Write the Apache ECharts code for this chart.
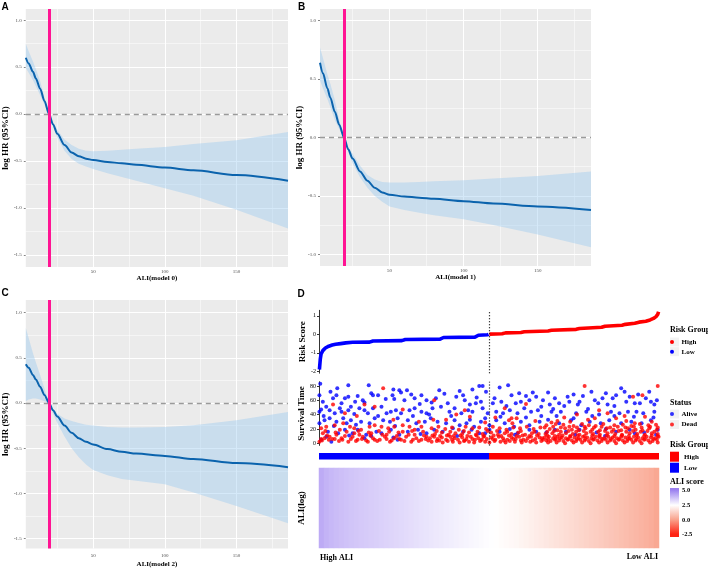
<!DOCTYPE html>
<html><head><meta charset="utf-8">
<script src="https://cdn.jsdelivr.net/npm/echarts@6/dist/echarts.min.js"></script>
<style>html,body{margin:0;padding:0;background:#fff}#c{width:708px;height:569px}</style>
</head><body><div id="c"></div>
<script>
// ---------- Panels A-C : restricted cubic spline (log HR vs ALI) ----------
const aliX = [3, 5, 8, 10, 13, 16, 19.2, 22, 25, 30, 35, 40, 45, 50, 60, 70, 80, 100, 120, 150, 186];
const fitA = [0.60, 0.54, 0.45, 0.38, 0.27, 0.14, 0, -0.11, -0.21, -0.33, -0.41, -0.45, -0.475, -0.49, -0.51, -0.525, -0.54, -0.57, -0.60, -0.65, -0.71];
const upA  = [0.75, 0.67, 0.56, 0.48, 0.35, 0.18, 0, -0.09, -0.17, -0.27, -0.33, -0.37, -0.39, -0.395, -0.39, -0.38, -0.37, -0.35, -0.32, -0.28, -0.19];
const loA  = [0.49, 0.44, 0.36, 0.30, 0.20, 0.10, 0, -0.13, -0.25, -0.39, -0.48, -0.53, -0.56, -0.585, -0.63, -0.67, -0.71, -0.79, -0.87, -1.02, -1.22];
const fitB = [0.64, 0.55, 0.42, 0.34, 0.22, 0.11, 0, -0.10, -0.18, -0.29, -0.37, -0.43, -0.47, -0.49, -0.505, -0.515, -0.525, -0.545, -0.565, -0.59, -0.62];
const upB  = [0.77, 0.68, 0.54, 0.46, 0.32, 0.15, 0, -0.08, -0.14, -0.24, -0.32, -0.36, -0.38, -0.385, -0.385, -0.38, -0.375, -0.365, -0.35, -0.33, -0.29];
const loB  = [0.49, 0.42, 0.33, 0.26, 0.15, 0.07, 0, -0.12, -0.22, -0.34, -0.43, -0.50, -0.55, -0.59, -0.62, -0.645, -0.665, -0.70, -0.75, -0.83, -0.94];
const fitC = [0.43, 0.39, 0.31, 0.26, 0.18, 0.09, 0, -0.08, -0.15, -0.25, -0.33, -0.39, -0.43, -0.46, -0.51, -0.54, -0.56, -0.585, -0.62, -0.665, -0.71];
const upC  = [0.83, 0.72, 0.55, 0.45, 0.31, 0.16, 0, -0.07, -0.12, -0.17, -0.20, -0.22, -0.24, -0.25, -0.265, -0.27, -0.27, -0.265, -0.245, -0.19, -0.10];
const loC  = [0.02, 0.04, 0.05, 0.05, 0.04, 0.02, 0, -0.12, -0.22, -0.37, -0.50, -0.60, -0.68, -0.74, -0.80, -0.84, -0.86, -0.90, -0.99, -1.14, -1.33];
const cutoff = 19.2;
const xMajor = [50, 100, 150];
const xMinor = [25, 75, 125, 175];
const yMajorAC = [-1.5, -1, -0.5, 0, 0.5, 1];
const yMinorAC = [-1.25, -0.75, -0.25, 0.25, 0.75];
const yMajorB = [-1, -0.5, 0, 0.5, 1];
const yMinorB = [-0.75, -0.25, 0.25, 0.75];

// ---------- Panel D ----------
const riskLow = [[1,-1.9],[2,-1.35],[3,-1.05],[5,-0.88],[8,-0.74],[12,-0.64],[16,-0.58],[20,-0.54],[26,-0.5],[32,-0.46],[40,-0.43],[60,-0.42],[64,-0.36],[98,-0.34],[102,-0.28],[143,-0.26],[147,-0.17],[184,-0.15],[188,-0.05],[199,-0.02],[200,0]];
const riskHigh = [[201,0.01],[216,0.03],[220,0.08],[238,0.1],[242,0.14],[270,0.18],[274,0.22],[303,0.27],[307,0.32],[333,0.38],[337,0.44],[357,0.49],[361,0.54],[372,0.6],[377,0.66],[385,0.71],[390,0.78],[394,0.86],[397,0.96],[399,1.08],[400,1.22]];
const riskTicks = [-2, -1, 0, 1];
const survTicks = [0, 20, 40, 60, 80];
const alive = [
[2,83],[22,77],[35,81],[59,81],[88,75],[95,74],[109,68],
[1,67],[17,63],[21,67],[31,63],[35,65],[46,66],[52,60],[54,57],[64,67],[70,67],[87,67],[89,62],[97,71],[101,60],[113,63],[121,67],[127,60],
[1,44],[3,47],[9,51],[13,46],[19,42],[25,49],[27,44],[35,46],[38,51],[42,41],[48,49],[54,46],[58,42],[64,49],[74,51],[80,42],[85,44],[91,46],[97,42],[107,46],[113,49],[121,44],[127,42],
[1,28],[7,32],[13,35],[21,30],[29,35],[33,28],[38,32],[50,30],[60,28],[66,35],[76,32],[84,30],[93,35],[105,32],[115,28],[125,30],
[11,16],[23,14],[31,19],[40,14],[46,19],[56,12],[68,16],[74,14],[85,19],[95,12],[105,16],[117,19],[127,14],
[3,5],[15,2],[54,7],[93,5],
[189,80],[193,80],[213,78],[223,81],[166,73],[181,75],[227,67],[244,66],
[148,69],[138,63],[162,65],[172,60],[178,54],[185,56],[191,58],[205,56],[215,58],[232,56],[238,58],[248,60],[256,65],[262,51],
[134,49],[144,51],[154,44],[160,49],[168,42],[176,46],[181,44],[193,49],[199,42],[209,44],[217,42],[225,46],[234,42],[242,49],[250,44],[258,46],
[132,35],[140,30],[150,28],[160,32],[166,25],[174,28],[183,23],[191,30],[201,25],[209,32],[219,28],[230,23],[238,30],[248,25],[260,30],
[136,19],[146,16],[158,21],[170,16],[180,19],[189,14],[201,19],[213,16],[225,20],[234,14],[248,19],[256,16],
[270,71],[278,63],[283,56],[293,65],[295,58],[305,54],[307,58],[311,66],[321,72],[325,60],[329,56],[334,63],[340,54],[346,63],[350,67],[356,77],[360,72],[366,65],[372,56],[378,56],[385,63],[391,58],[395,54],
[272,54],[274,44],[285,44],[303,42],[315,44],[330,40],[344,44],[354,42],[364,44],[374,44],[382,42],[395,44],
[270,33],[283,28],[297,32],[309,25],[319,30],[332,28],[342,32],[356,28],[368,30],[380,28],[391,32],
[278,19],[291,16],[307,19],[327,15],[338,20],[350,16],[366,19],[383,15],[399,19],
[5,58],[14,72],[27,56],[43,58],[62,70],[79,62],[104,74],[119,55],[133,57],[142,74],[152,56],[170,67],[186,64],[197,72],[207,63],[221,52],[236,70],[252,71],[264,60],[276,48],[289,52],[300,68],[317,48],[338,70],[348,52],[362,58],[376,68],[389,72],[398,60],
[6,38],[18,24],[44,26],[70,38],[90,24],[111,38],[130,40],[156,38],[178,33],[196,35],[214,37],[244,36],[262,38],[280,38],[300,35],[322,38],[348,38],[371,37],[394,36],
[9,9],[36,11],[62,10],[88,8],[120,13],[163,10],[196,14],[231,12],[268,15],[302,12],[337,10],[372,14],[397,12]
];
const dead = [
[17,54],[54,54],[76,77],[99,47],[31,42],[66,51],
[3,21],[9,23],[19,25],[29,28],[37,23],[42,21],[50,19],[60,23],[66,25],[74,23],[82,21],[89,23],[99,25],[107,23],[113,19],[121,23],
[1,2],[7,7],[13,9],[21,12],[27,7],[35,2],[40,9],[46,5],[52,9],[58,2],[64,7],[72,5],[78,9],[84,2],[89,7],[97,5],[103,9],[109,2],[115,7],[121,5],[127,9],
[5,14],[25,19],[42,14],[62,14],[80,12],[99,16],[113,12],
[4,4],[10,11],[16,6],[24,3],[31,10],[44,3],[48,12],[56,4],[61,11],[69,3],[75,12],[86,4],[92,10],[101,3],[106,12],[118,3],[124,11],[129,4],
[172,46],[219,49],[244,55],[227,35],[136,60],[178,37],[224,32],[228,28],[233,35],[135,33],
[133,21],[141,23],[149,20],[157,22],[165,19],[173,23],[181,21],[189,22],[197,20],[205,23],[213,21],[221,19],[229,22],[237,21],[245,23],[253,20],[261,22],
[137,13],[145,15],[153,12],[161,14],[169,13],[177,15],[185,12],[193,13],[203,15],[211,12],[219,14],[227,13],[235,15],[243,12],[251,14],[259,13],
[131,7],[136,9],[140,6],[145,8],[150,5],[155,9],[160,7],[164,5],[169,8],[174,6],[179,9],[184,5],[188,7],[194,9],[198,6],[203,8],[208,5],[212,9],[217,7],[222,5],[227,8],[232,6],[236,9],[241,5],[246,7],[250,9],[255,6],[260,8],[264,5],
[133,2],[139,3],[146,1],[152,3],[158,2],[166,1],[171,3],[177,2],[183,1],[190,3],[196,2],[201,1],[207,3],[214,2],[220,1],[225,3],[231,2],[239,1],[244,3],[249,2],[256,1],[262,3],
[134,11],[143,10],[151,11],[159,10],[167,11],[175,10],[186,11],[195,10],[206,11],[215,10],[224,11],[233,10],[240,11],[248,10],[257,11],
[313,80],[399,80],[381,67],[370,65],[330,46],[340,42],[289,36],[350,35],[372,28],
[274,29],[281,31],[317,33],[384,37],[296,30],[362,31],
[268,25],[279,27],[288,26],[300,24],[310,27],[318,25],[326,24],[335,27],[348,25],[358,26],[368,24],[378,27],[388,25],[397,26],
[272,20],[281,18],[290,21],[298,19],[306,18],[314,21],[322,19],[331,18],[339,21],[347,19],[356,18],[364,21],[373,19],[381,18],[389,21],[398,19],
[267,13],[275,14],[283,12],[291,14],[299,13],[307,12],[315,14],[323,13],[331,12],[340,14],[349,13],[357,12],[366,14],[375,13],[384,12],[392,14],[399,13],
[266,8],[271,9],[276,7],[281,9],[286,8],[291,7],[296,9],[301,8],[306,7],[311,9],[316,8],[321,7],[326,9],[331,8],[336,7],[341,9],[346,8],[351,7],[356,9],[361,8],[366,7],[371,9],[376,8],[381,7],[386,9],[391,8],[396,7],[400,9],
[268,4],[273,3],[278,5],[283,4],[288,3],[293,5],[298,4],[303,3],[308,5],[313,4],[318,3],[323,5],[328,4],[333,3],[338,5],[343,4],[348,3],[353,5],[358,4],[363,3],[368,5],[373,4],[378,3],[383,5],[388,4],[393,3],[398,5],
[270,1],[280,1],[290,0],[300,1],[310,1],[320,0],[330,1],[340,1],[350,0],[360,1],[370,1],[380,0],[390,1],[399,1],
[8,17],[20,15],[33,16],[47,17],[59,15],[71,17],[83,16],[94,15],[110,17],[123,16],[139,17],[155,16],[171,17],[187,16],[199,17],[210,17],[222,16],[238,17],[254,16],[269,16],[277,17],[285,16],[294,17],[303,16],[312,17],[320,16],[329,16],[337,17],[345,16],[353,17],[362,16],[370,17],[379,16],[387,17],[395,16],
[3,6],[12,5],[19,6],[28,5],[38,6],[51,6],[66,5],[80,6],[95,6],[111,5],[126,6],[142,4],[157,5],[172,4],[181,6],[192,5],[205,6],[218,4],[229,6],[238,4],[252,4],[263,7],[270,6],[279,6],[284,7],[294,6],[304,6],[314,6],[324,6],[334,6],[344,6],[354,6],[364,6],[374,6],[384,6],[394,6],
[266,22],[276,23],[285,22],[295,23],[304,22],[313,23],[324,22],[333,23],[343,22],[352,23],[361,22],[371,23],[380,22],[390,23],[399,22],
[269,11],[278,10],[287,11],[296,10],[305,11],[313,10],[322,11],[330,10],[339,11],[348,10],[357,11],[365,10],[374,11],[383,10],[392,11],[399,10],
[45,38],[88,33],[118,30],[150,33],[162,40],[196,29],[208,36],[255,31],[304,40],[325,35],[360,38],[392,30]
];
const groupLow = 200, groupHigh = 200;
const splitIndex = 200.5;
const aliLog = [4.15, 4.0, 3.9, 3.82, 3.76, 3.7, 3.65, 3.6, 3.56, 3.52,
  3.48, 3.44, 3.4, 3.36, 3.32, 3.28, 3.24, 3.2, 3.16, 3.12,
  3.08, 3.04, 3.0, 2.96, 2.92, 2.88, 2.84, 2.8, 2.76, 2.72,
  2.68, 2.64, 2.6, 2.56, 2.52, 2.47, 2.42, 2.37, 2.32, 2.27,
  2.2, 2.13, 2.06, 1.99, 1.92, 1.85, 1.78, 1.71, 1.64, 1.57,
  1.5, 1.43, 1.36, 1.29, 1.22, 1.15, 1.08, 1.0, 0.92, 0.84,
  0.76, 0.68, 0.6, 0.52, 0.44, 0.36, 0.26, 0.12];
const aliLegendTicks = ['5.0', '2.5', '0.0', '-2.5'];
const heatColors = ['#ff2414', '#f9a48e', '#ffffff', '#9b80f0'];

const SERIF = 'Liberation Serif';
const chart = echarts.init(document.getElementById('c'), null, {renderer: 'canvas'});

const grids = [
  {left: 24, top: 9, width: 264, height: 258, show: true, backgroundColor: '#ebebeb', borderWidth: 0},
  {left: 320, top: 9, width: 271, height: 257, show: true, backgroundColor: '#ebebeb', borderWidth: 0},
  {left: 24, top: 300, width: 264, height: 249, show: true, backgroundColor: '#ebebeb', borderWidth: 0},
  {left: 319, top: 310.3, width: 340, height: 62.9},
  {left: 319, top: 381.7, width: 340, height: 63.7},
  {left: 319, top: 453, width: 340, height: 6.5},
  {left: 319, top: 468, width: 340, height: 80}
];

function hrX(gi, name, gap, margin) {
  return {gridIndex: gi, type: 'value', min: 3, max: 186,
    axisLine: {show: false},
    axisTick: {show: true, customValues: xMajor, length: 2, lineStyle: {color: '#333', width: 0.6}},
    axisLabel: {customValues: xMajor, fontSize: 5, color: '#4d4d4d', fontFamily: SERIF, margin: margin},
    splitLine: {show: false},
    name: name, nameLocation: 'middle', nameGap: gap,
    nameTextStyle: {fontFamily: SERIF, fontWeight: 'bold', fontSize: 7, color: '#000'}};
}
function hrY(gi, min, max, ticks, gap) {
  return {gridIndex: gi, type: 'value', min: min, max: max,
    axisLine: {show: false},
    axisTick: {show: true, customValues: ticks, length: 2, lineStyle: {color: '#333', width: 0.6}},
    axisLabel: {customValues: ticks, fontSize: 5, color: '#4d4d4d', fontFamily: SERIF, margin: 4, formatter: v => v.toFixed(1)},
    splitLine: {show: false},
    name: 'log HR (95%CI)', nameLocation: 'middle', nameGap: gap,
    nameTextStyle: {fontFamily: SERIF, fontWeight: 'bold', fontSize: 9, color: '#000'}};
}
function gridLines(yMajor, yMinor) {
  const d = [];
  xMajor.forEach(v => d.push({xAxis: v, lineStyle: {width: 1}}));
  xMinor.forEach(v => d.push({xAxis: v, lineStyle: {width: 0.5}}));
  yMajor.forEach(v => d.push({yAxis: v, lineStyle: {width: 1}}));
  yMinor.forEach(v => d.push({yAxis: v, lineStyle: {width: 0.5}}));
  return {silent: true, symbol: 'none', z: 2, label: {show: false}, animation: false,
    lineStyle: {color: '#ffffff', type: 'solid'}, data: d};
}
function bandRender(params, api) {
  if (params.dataIndex !== 0) return null;
  const n = params.dataInsideLength;
  const top = [], bot = [];
  for (let i = 0; i < n; i++) {
    top.push(api.coord([api.value(0, i), api.value(2, i)]));
    bot.push(api.coord([api.value(0, i), api.value(1, i)]));
  }
  return {type: 'polygon', shape: {points: top.concat(bot.reverse())},
    style: {fill: 'rgba(150,200,240,0.40)'}};
}
function hrSeries(gi, fit, up, lo, yMajor, yMinor) {
  return [
    {type: 'custom', xAxisIndex: gi, yAxisIndex: gi, z: 3, silent: true, clip: true,
     data: aliX.map((x, i) => [x, lo[i], up[i]]), encode: {x: 0, y: [1, 2]},
     renderItem: bandRender, markLine: gridLines(yMajor, yMinor)},
    {type: 'line', xAxisIndex: gi, yAxisIndex: gi, symbol: 'none', smooth: 0.3, smoothMonotone: 'x', z: 5,
     lineStyle: {color: '#0b63ad', width: 2}, data: aliX.map((x, i) => [x, fit[i]]),
     markLine: {silent: true, symbol: 'none', z: 4, label: {show: false}, animation: false,
       lineStyle: {color: '#9a9a9a', type: [5, 4], width: 1.3}, data: [{yAxis: 0}]}},
    {type: 'line', xAxisIndex: gi, yAxisIndex: gi, symbol: 'none', z: 1, silent: true,
     lineStyle: {opacity: 0}, data: aliX.map((x, i) => [x, fit[i]]),
     markLine: {silent: true, symbol: 'none', z: 6, label: {show: false}, animation: false,
       lineStyle: {color: '#ff1493', type: 'solid', width: 3}, data: [{xAxis: cutoff}]}}
  ];
}
const dotted = {silent: true, symbol: 'none', z: 5, label: {show: false}, animation: false,
  lineStyle: {color: '#000', type: [1, 2], width: 1.2}, data: [{xAxis: splitIndex}]};

const legendText = {fontFamily: SERIF, fontWeight: 'bold', fontSize: 7, color: '#000', lineHeight: 8};

const option = {
  animation: false,
  grid: grids,
  xAxis: [
    hrX(0, 'ALI(model 0)', 6.5, 2),
    hrX(1, 'ALI(model 1)', 7.5, 2),
    hrX(2, 'ALI(model 2)', 12.5, 5),
    {gridIndex: 3, type: 'value', min: 0.5, max: 400.5, show: false},
    {gridIndex: 4, type: 'value', min: 0.5, max: 400.5, show: false},
    {gridIndex: 5, type: 'value', min: 0, max: groupLow + groupHigh, show: false},
    {gridIndex: 6, type: 'category', data: aliLog.map((v, i) => i), show: false}
  ],
  yAxis: [
    hrY(0, -1.63, 1.12, yMajorAC, 8),
    hrY(1, -1.1, 1.1, yMajorB, 9),
    hrY(2, -1.61, 1.14, yMajorAC, 8),
    {gridIndex: 3, type: 'value', min: -2.1, max: 1.3,
     axisLine: {show: true, lineStyle: {color: '#000', width: 0.8}},
     axisTick: {show: true, customValues: riskTicks, length: 2, lineStyle: {color: '#000', width: 0.8}},
     axisLabel: {customValues: riskTicks, fontSize: 6, color: '#000', fontFamily: SERIF, margin: 3},
     splitLine: {show: false},
     name: 'Risk Score', nameLocation: 'middle', nameGap: 10.5,
     nameTextStyle: {fontFamily: SERIF, fontWeight: 'bold', fontSize: 9, color: '#000'}},
    {gridIndex: 4, type: 'value', min: -3, max: 86,
     axisLine: {show: true, lineStyle: {color: '#000', width: 0.8}},
     axisTick: {show: true, customValues: survTicks, length: 2, lineStyle: {color: '#000', width: 0.8}},
     axisLabel: {customValues: survTicks, fontSize: 6, color: '#000', fontFamily: SERIF, margin: 3},
     splitLine: {show: false},
     name: 'Survival Time', nameLocation: 'middle', nameGap: 10.5,
     nameTextStyle: {fontFamily: SERIF, fontWeight: 'bold', fontSize: 9, color: '#000'}},
    {gridIndex: 5, type: 'category', data: ['group'], show: false},
    {gridIndex: 6, type: 'category', data: ['ALI'],
     axisLine: {show: false}, axisTick: {show: false}, axisLabel: {show: false}, splitLine: {show: false},
     name: 'ALI(log)', nameLocation: 'middle', nameGap: 12.5,
     nameTextStyle: {fontFamily: SERIF, fontWeight: 'bold', fontSize: 9, color: '#000'}}
  ],
  visualMap: {type: 'continuous', show: false, min: -2.5, max: 5, seriesIndex: 15, dimension: 2,
    inRange: {color: heatColors}},
  legend: [
    {data: ['High', 'Low'], left: 670, top: 338, orient: 'vertical', icon: 'circle', itemWidth: 9, itemHeight: 4,
     itemGap: 1.7, padding: 0, selectedMode: false, itemStyle: {borderWidth: 0}, textStyle: legendText},
    {data: ['Alive', 'Dead'], left: 670, top: 410, orient: 'vertical', icon: 'circle', itemWidth: 9, itemHeight: 4,
     itemGap: 2.5, padding: 0, selectedMode: false, itemStyle: {borderWidth: 0}, textStyle: legendText},
    {data: ['High', 'Low'], left: 670, top: 451.7, orient: 'vertical', icon: 'rect', itemWidth: 9, itemHeight: 10,
     itemGap: 1, padding: 0, selectedMode: false, itemStyle: {borderWidth: 0}, textStyle: legendText}
  ],
  series: [
    ...hrSeries(0, fitA, upA, loA, yMajorAC, yMinorAC),
    ...hrSeries(1, fitB, upB, loB, yMajorB, yMinorB),
    ...hrSeries(2, fitC, upC, loC, yMajorAC, yMinorAC),
    {name: 'Low', type: 'line', xAxisIndex: 3, yAxisIndex: 3, data: riskLow, symbol: 'none',
     itemStyle: {color: '#0000ff'}, lineStyle: {color: '#0000ff', width: 3.6}, markLine: dotted},
    {name: 'High', type: 'line', xAxisIndex: 3, yAxisIndex: 3, data: riskHigh, symbol: 'none',
     itemStyle: {color: '#ff0000'}, lineStyle: {color: '#ff0000', width: 3.6}},
    {name: 'Alive', type: 'scatter', xAxisIndex: 4, yAxisIndex: 4, data: alive, symbolSize: 4,
     itemStyle: {color: '#0000ff'}, markLine: dotted},
    {name: 'Dead', type: 'scatter', xAxisIndex: 4, yAxisIndex: 4, data: dead, symbolSize: 4,
     itemStyle: {color: '#ff0000'}},
    {name: 'Low', type: 'bar', xAxisIndex: 5, yAxisIndex: 5, stack: 'grp', data: [groupLow], barWidth: '100%',
     itemStyle: {color: '#0000ff'}},
    {name: 'High', type: 'bar', xAxisIndex: 5, yAxisIndex: 5, stack: 'grp', data: [groupHigh], barWidth: '100%',
     itemStyle: {color: '#ff0000'}},
    {name: 'ALI score', type: 'heatmap', xAxisIndex: 6, yAxisIndex: 6,
     data: aliLog.map((v, i) => [i, 0, v]), itemStyle: {borderWidth: 0}}
  ],
  graphic: [
    {type: 'text', left: 1.5, top: 2, style: {text: 'A', font: 'bold 10px "Liberation Sans"', fill: '#000'}},
    {type: 'text', left: 298, top: 2, style: {text: 'B', font: 'bold 10px "Liberation Sans"', fill: '#000'}},
    {type: 'text', left: 1.5, top: 288, style: {text: 'C', font: 'bold 10px "Liberation Sans"', fill: '#000'}},
    {type: 'text', left: 297.5, top: 289, style: {text: 'D', font: 'bold 10px "Liberation Sans"', fill: '#000'}},
    {type: 'text', left: 670, top: 326, style: {text: 'Risk Group', font: 'bold 8px "Liberation Serif"', fill: '#000'}},
    {type: 'text', left: 670, top: 399, style: {text: 'Status', font: 'bold 8px "Liberation Serif"', fill: '#000'}},
    {type: 'text', left: 670, top: 441, style: {text: 'Risk Group', font: 'bold 8px "Liberation Serif"', fill: '#000'}},
    {type: 'text', left: 670, top: 478, style: {text: 'ALI score', font: 'bold 8px "Liberation Serif"', fill: '#000'}},
    {type: 'rect', shape: {x: 670, y: 337.5, width: 9, height: 9}, style: {fill: '#f2f2f2'}, z: -1},
    {type: 'rect', shape: {x: 670, y: 347.2, width: 9, height: 9}, style: {fill: '#f2f2f2'}, z: -1},
    {type: 'rect', shape: {x: 670, y: 409.5, width: 9, height: 9}, style: {fill: '#f2f2f2'}, z: -1},
    {type: 'rect', shape: {x: 670, y: 420, width: 9, height: 9}, style: {fill: '#f2f2f2'}, z: -1},
    {type: 'rect', shape: {x: 670, y: 488, width: 9, height: 49},
     style: {fill: new echarts.graphic.LinearGradient(0, 0, 0, 1, [
       {offset: 0.04, color: heatColors[3]}, {offset: 0.35, color: heatColors[2]},
       {offset: 0.64, color: heatColors[1]}, {offset: 0.94, color: heatColors[0]}])}},
    ...aliLegendTicks.map((t, i) => ({type: 'text', left: 682, top: 487 + i * 14.7,
       style: {text: t, font: 'bold 6.5px "Liberation Serif"', fill: '#000'}})),
    {type: 'text', left: 320, top: 554, style: {text: 'High ALI', font: 'bold 8px "Liberation Serif"', fill: '#000'}},
    {type: 'text', right: 50, top: 553, style: {text: 'Low ALI', font: 'bold 8px "Liberation Serif"', fill: '#000'}}
  ]
};
chart.setOption(option);
</script></body></html>
